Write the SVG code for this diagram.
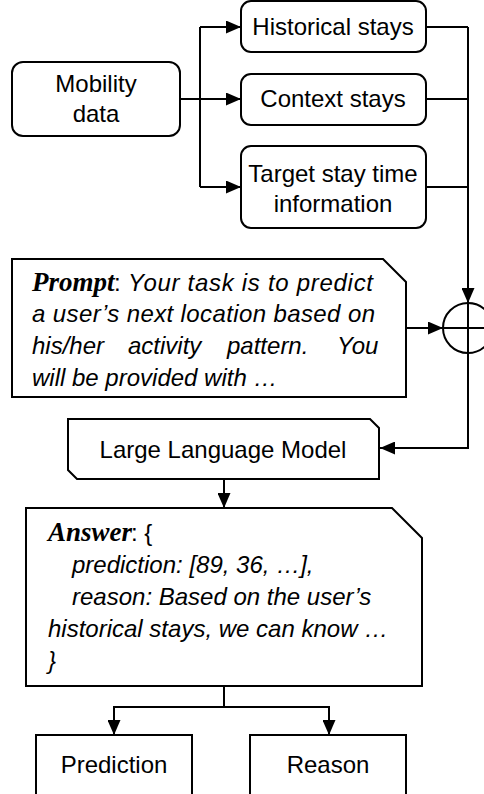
<svg xmlns="http://www.w3.org/2000/svg" width="484" height="794" viewBox="0 0 484 794">
<style>
.box{fill:#fff;stroke:#000;stroke-width:2}
.ln{fill:none;stroke:#000;stroke-width:2}
.t{font-family:"Liberation Sans",Arial,sans-serif;font-size:24px;fill:#000}
.c{text-anchor:middle}
.i{font-style:italic}
.b{font-family:"Liberation Serif","Times New Roman",serif;font-weight:bold;font-style:italic;font-size:27px;fill:#000}
</style>
<defs>
<marker id="ah" viewBox="0 0 15 13" refX="15" refY="6.5" markerWidth="15" markerHeight="13" markerUnits="userSpaceOnUse" orient="auto">
<path d="M0,0 L15,6.5 L0,13 Z" fill="#000"/>
</marker>
</defs>
<g id="connectors">
<path class="ln" d="M180,99 H241" marker-end="url(#ah)"/>
<path class="ln" d="M200,27 V187"/>
<path class="ln" d="M200,27 H241" marker-end="url(#ah)"/>
<path class="ln" d="M200,187 H241" marker-end="url(#ah)"/>
<path class="ln" d="M426,27 H468 M426,99 H468 M426,187 H468"/>
<path class="ln" d="M468,27 V303" marker-end="url(#ah)"/>
<path class="ln" d="M406,328 H443" marker-end="url(#ah)"/>
<path class="ln" d="M468,303 V448 H380" marker-end="url(#ah)"/>
<path class="ln" d="M443,328 H486"/>
<path class="ln" d="M224,479 V508" marker-end="url(#ah)"/>
<path class="ln" d="M224,686 V707"/>
<path class="ln" d="M114,707 H329"/>
<path class="ln" d="M114,706 V735" marker-end="url(#ah)"/>
<path class="ln" d="M329,706 V735" marker-end="url(#ah)"/>
</g>
<g id="sum">
<circle class="ln" cx="468" cy="328" r="25"/>
</g>
<g id="mobility">
<rect class="box" x="12" y="62" width="168" height="74" rx="11"/>
<text class="t c" x="96" y="92">Mobility</text>
<text class="t c" x="96" y="122">data</text>
</g>
<g id="historical">
<rect class="box" x="241" y="1" width="185" height="51" rx="10"/>
<text class="t c" x="333" y="35">Historical stays</text>
</g>
<g id="context">
<rect class="box" x="241" y="74" width="185" height="51" rx="10"/>
<text class="t c" x="333" y="107">Context stays</text>
</g>
<g id="target">
<rect class="box" x="241" y="146" width="185" height="82" rx="10"/>
<text class="t c" x="333" y="182">Target stay time</text>
<text class="t c" x="333" y="212">information</text>
</g>
<g id="prompt">
<path class="box" d="M12,259 H383 L406,282 V397 H12 Z"/>
<text class="b" x="32" y="291">Prompt</text>
<text class="t" x="114" y="291">:</text>
<text class="t i" x="128" y="291" textLength="245">Your task is to predict</text>
<text class="t i" x="32" y="322" textLength="343">a user’s next location based on</text>
<text class="t i" x="32" y="354">his/her</text>
<text class="t i" x="128" y="354">activity</text>
<text class="t i" x="227" y="354">pattern.</text>
<text class="t i" x="337" y="354">You</text>
<text class="t i" x="32" y="386">will be provided with …</text>
</g>
<g id="llm">
<path class="box" d="M68,419 H370 L379,428 V479 H77 L68,470 Z"/>
<text class="t c" x="223" y="458">Large Language Model</text>
</g>
<g id="answer">
<path class="box" d="M26,508 H392 L422,538 V686 H26 Z"/>
<text class="b" x="48" y="541">Answer</text>
<text class="t" x="131" y="541">: {</text>
<text class="t i" x="72" y="573">prediction: [89, 36, …],</text>
<text class="t i" x="72" y="605">reason: Based on the user’s</text>
<text class="t i" x="48" y="637">historical stays, we can know …</text>
<text class="t i" x="48" y="669">}</text>
</g>
<g id="prediction">
<rect class="box" x="36" y="735" width="156" height="70"/>
<text class="t c" x="114" y="773">Prediction</text>
</g>
<g id="reason">
<rect class="box" x="250" y="735" width="156" height="70"/>
<text class="t c" x="328" y="773">Reason</text>
</g>
</svg>
